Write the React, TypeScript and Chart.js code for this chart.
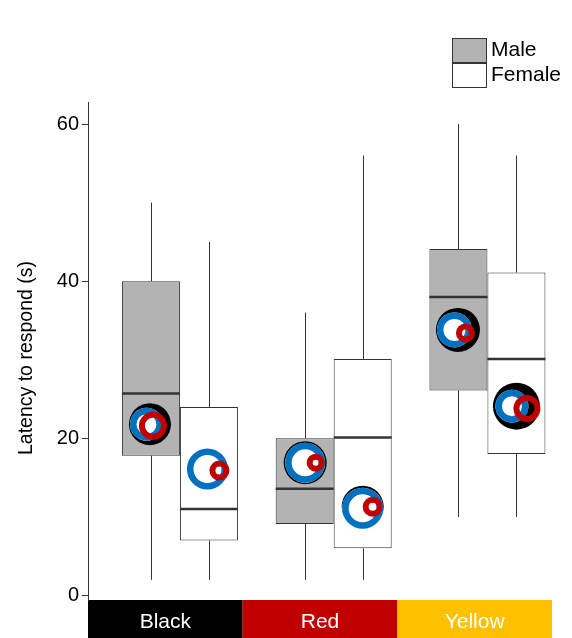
import { useEffect, useRef } from 'react';
import { Chart, registerables } from 'chart.js';

Chart.register(...registerables);

// ---------- data ----------
const categories = ['Black', 'Red', 'Yellow'];
const categoryColors = ['#000000', '#C00000', '#FFC000'];
const seriesNames = ['Male', 'Female'];

const maleMin = [2, 2, 10];
const maleQ1 = [17.8, 9.1, 26.1];
const maleMedian = [25.7, 13.6, 38.0];
const maleQ3 = [40.0, 20.0, 44.1];
const maleMax = [50, 36, 60];

const femaleMin = [2, 2, 10];
const femaleQ1 = [7.0, 6.0, 18.0];
const femaleMedian = [11.0, 20.1, 30.1];
const femaleQ3 = [24.0, 30.1, 41.1];
const femaleMax = [45, 56, 56];

// overlaid circle markers (black, blue, red) per category
const maleBlackMarker = [21.8, 16.9, 33.8];
const maleBlueMarker = [21.8, 16.9, 33.8];
const maleRedMarker = [21.6, 16.9, 33.4];
const femaleBlackMarker: (number | null)[] = [null, 11.3, 24.1];
const femaleBlueMarker = [16.1, 11.1, 24.1];
const femaleRedMarker = [15.9, 11.3, 23.8];

const yTicks = [0, 20, 40, 60];
const yTitle = 'Latency to respond (s)';

// ---------- styles ----------
const FONT = '"Liberation Sans", Arial, sans-serif';
const boxFills = ['#B3B3B3', '#FFFFFF'];
const lineColor = '#333333';

// marker geometry (px): [male[], female[]] per category
const markerStyles = {
  black: { color: '#000000', r: [[21, 21.5, 22], [0, 21, 23.5]], dx: [[-1, 0.5, -0.5], [0, 0, 0]] },
  blue: { color: '#0070C0', t: 6.5, r: [[16.5, 20, 17.5], [20.5, 20.5, 16.5]], dx: [[-4.5, 0.5, -4], [-1.5, 0, -4.5]] },
  red: { color: '#C00000', t: 6, r: [[14, 9, 9.5], [10, 10, 13.5]], dx: [[2, 11, 7], [10.5, 10, 10.5]] },
};

const stats = [
  { min: maleMin, med: maleMedian, max: maleMax, q1: maleQ1, q3: maleQ3, black: maleBlackMarker, blue: maleBlueMarker, red: maleRedMarker },
  { min: femaleMin, med: femaleMedian, max: femaleMax, q1: femaleQ1, q3: femaleQ3, black: femaleBlackMarker, blue: femaleBlueMarker, red: femaleRedMarker },
];

const extrasPlugin = {
  id: 'boxExtras',
  beforeDraw(chart: any) {
    const { ctx, chartArea } = chart;
    const w = (chartArea.right - chartArea.left) / categories.length;
    ctx.save();
    categories.forEach((c, i) => {
      ctx.fillStyle = categoryColors[i];
      ctx.fillRect(chartArea.left + i * w, chartArea.bottom, w, chart.height - chartArea.bottom);
      ctx.fillStyle = '#FFFFFF';
      ctx.font = `21px ${FONT}`;
      ctx.textAlign = 'center';
      ctx.textBaseline = 'middle';
      ctx.fillText(c, chartArea.left + (i + 0.5) * w, chartArea.bottom + 22);
    });
    // rotated y-axis title
    ctx.translate(27, (chartArea.top + chartArea.bottom) / 2 + 7);
    ctx.rotate(-Math.PI / 2);
    ctx.fillStyle = '#000000';
    ctx.font = `19.5px ${FONT}`;
    ctx.textAlign = 'center';
    ctx.textBaseline = 'middle';
    ctx.fillText(yTitle, 0, 0);
    ctx.restore();
  },
  beforeDatasetsDraw(chart: any) {
    const { ctx } = chart;
    const y = chart.scales.y;
    ctx.save();
    ctx.strokeStyle = lineColor;
    ctx.lineWidth = 1;
    stats.forEach((s, d) => {
      const meta = chart.getDatasetMeta(d);
      meta.data.forEach((bar: any, i: number) => {
        const x = Math.round(bar.x) + 0.5;
        ctx.beginPath();
        ctx.moveTo(x, y.getPixelForValue(s.max[i]));
        ctx.lineTo(x, y.getPixelForValue(s.q3[i]));
        ctx.moveTo(x, y.getPixelForValue(s.q1[i]));
        ctx.lineTo(x, y.getPixelForValue(s.min[i]));
        ctx.stroke();
      });
    });
    ctx.restore();
  },
  afterDatasetsDraw(chart: any) {
    const { ctx } = chart;
    const y = chart.scales.y;
    ctx.save();
    stats.forEach((s, d) => {
      const meta = chart.getDatasetMeta(d);
      meta.data.forEach((bar: any, i: number) => {
        const half = bar.width / 2;
        // median
        const my = y.getPixelForValue(s.med[i]);
        ctx.beginPath();
        ctx.strokeStyle = lineColor;
        ctx.lineWidth = 2.5;
        ctx.moveTo(bar.x - half, my);
        ctx.lineTo(bar.x + half, my);
        ctx.stroke();
        // black disk
        const bv = s.black[i];
        const br = markerStyles.black.r[d][i];
        if (bv !== null && br > 0) {
          ctx.beginPath();
          ctx.fillStyle = markerStyles.black.color;
          ctx.arc(bar.x + markerStyles.black.dx[d][i], y.getPixelForValue(bv), br, 0, Math.PI * 2);
          ctx.fill();
        }
        // blue ring, white inside
        {
          const st = markerStyles.blue;
          const cx = bar.x + st.dx[d][i];
          const cy = y.getPixelForValue(s.blue[i]);
          const r = st.r[d][i];
          ctx.beginPath();
          ctx.fillStyle = '#FFFFFF';
          ctx.arc(cx, cy, r, 0, Math.PI * 2);
          ctx.fill();
          ctx.beginPath();
          ctx.strokeStyle = st.color;
          ctx.lineWidth = st.t;
          ctx.arc(cx, cy, r - st.t / 2, 0, Math.PI * 2);
          ctx.stroke();
        }
        // red ring
        {
          const st = markerStyles.red;
          const cx = bar.x + st.dx[d][i];
          const cy = y.getPixelForValue(s.red[i]);
          const r = st.r[d][i];
          ctx.beginPath();
          ctx.strokeStyle = st.color;
          ctx.lineWidth = st.t;
          ctx.arc(cx, cy, r - st.t / 2, 0, Math.PI * 2);
          ctx.stroke();
        }
      });
    });
    ctx.restore();
  },
  afterDraw(chart: any) {
    const { ctx } = chart;
    ctx.save();
    const lx = 452, ly = 38, bw = 34, bh = 24;
    seriesNames.forEach((name, k) => {
      const top = ly + k * (bh + 1);
      ctx.fillStyle = boxFills[k];
      ctx.fillRect(lx, top, bw, bh);
      ctx.strokeStyle = lineColor;
      ctx.lineWidth = 1;
      ctx.strokeRect(lx + 0.5, top + 0.5, bw, bh);
      ctx.fillStyle = '#000000';
      ctx.font = `21px ${FONT}`;
      ctx.textAlign = 'left';
      ctx.textBaseline = 'middle';
      ctx.fillText(name, lx + bw + 5, top + bh / 2 + 0.5);
    });
    ctx.restore();
  },
};

export default function App() {
  const ref = useRef<HTMLCanvasElement | null>(null);
  useEffect(() => {
    document.body.style.margin = '0';
    const canvas = ref.current;
    if (!canvas) return;
    const chart = new Chart(canvas, {
      type: 'bar',
      data: {
        datasets: [
          {
            label: seriesNames[0],
            data: categories.map((_, i) => ({ x: i, y: [maleQ1[i], maleQ3[i]] })) as any,
            backgroundColor: boxFills[0],
            borderColor: lineColor,
            borderWidth: 1,
            borderSkipped: false,
            categoryPercentage: 0.7545,
            barPercentage: 1,
          },
          {
            label: seriesNames[1],
            data: categories.map((_, i) => ({ x: i, y: [femaleQ1[i], femaleQ3[i]] })) as any,
            backgroundColor: boxFills[1],
            borderColor: lineColor,
            borderWidth: 1,
            borderSkipped: false,
            categoryPercentage: 0.7545,
            barPercentage: 1,
          },
        ],
      },
      options: {
        animation: false,
        responsive: false,
        maintainAspectRatio: false,
        layout: { padding: { top: 102, right: 20, bottom: 38, left: 0 } },
        plugins: { legend: { display: false }, tooltip: { enabled: false } },
        scales: {
          x: {
            type: 'linear',
            min: -0.598,
            max: 2.42,
            display: false,
            offset: false,
            grid: { offset: false },
            afterBuildTicks: (s: any) => {
              s.ticks = categories.map((_, i) => ({ value: i }));
            },
          } as any,
          y: {
            min: -0.57,
            max: 62.8,
            afterBuildTicks: (s: any) => {
              s.ticks = yTicks.map((v) => ({ value: v }));
            },
            afterFit: (s: any) => {
              s.width = 88;
            },
            ticks: { font: { size: 20, family: FONT }, color: '#000000', padding: 3 },
            grid: { drawOnChartArea: false, drawTicks: true, tickLength: 6, color: lineColor },
            border: { display: true, color: lineColor, width: 1 },
            title: { display: false },
          } as any,
        },
      },
      plugins: [extrasPlugin],
    });
    return () => chart.destroy();
  }, []);
  return <canvas ref={ref} width={572} height={638} style={{ display: 'block' }} />;
}
